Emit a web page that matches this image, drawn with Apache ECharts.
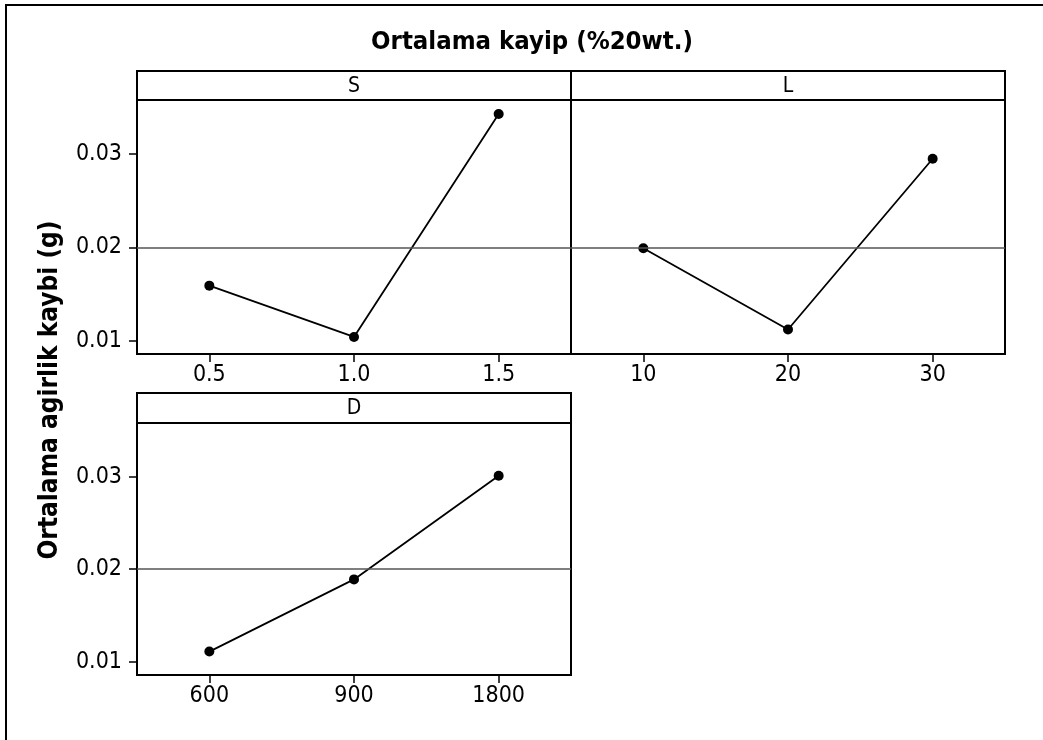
<!DOCTYPE html>
<html>
<head>
<meta charset="utf-8">
<script src="https://cdn.jsdelivr.net/npm/echarts@6/dist/echarts.min.js"></script>
<style>
  html, body { margin: 0; padding: 0; background: #fff; }
  #chart { width: 1043px; height: 740px; }
</style>
</head>
<body>
<div id="chart"></div>
<script>
// ---- data ----
const chartTitle = 'Ortalama kayip (%20wt.)';
const yAxisTitle = 'Ortalama agirlik kaybi (g)';
const panelNames = ['S', 'L', 'D'];
const catS = ['0.5', '1.0', '1.5'];
const valS = [0.0159, 0.0104, 0.0343];
const catL = ['10', '20', '30'];
const valL = [0.0199, 0.0112, 0.0295];
const catD = ['600', '900', '1800'];
const valD = [0.0111, 0.0189, 0.0301];
const yTicks = [0.01, 0.02, 0.03];
const refMean = 0.02;

const FONT = "'DejaVu Sans Condensed', 'DejaVu Sans', sans-serif";
const cats = [catS, catL, catD];
const vals = [valS, valL, valD];

const grids = [
  { left: 137, top: 100, width: 434, height: 254 },
  { left: 571, top: 100, width: 434, height: 254 },
  { left: 137, top: 423, width: 434, height: 252 }
].map(g => Object.assign({ show: true, borderColor: '#000', borderWidth: 2, backgroundColor: '#fff', containLabel: false }, g));

const xAxes = cats.map((c, i) => ({
  type: 'category', gridIndex: i, data: c, boundaryGap: true,
  axisLine: { show: false },
  axisTick: { show: true, alignWithLabel: true, length: 8, lineStyle: { color: '#000', width: 1.5 } },
  axisLabel: { color: '#000', fontSize: 23, fontFamily: FONT, margin: 10 },
  splitLine: { show: false }
}));

const yAxes = [0, 1, 2].map(i => ({
  type: 'value', gridIndex: i, min: 0.00857, max: 0.0358,
  axisLine: { show: false },
  splitLine: { show: false },
  axisTick: { show: i !== 1, customValues: yTicks, length: 8, lineStyle: { color: '#000', width: 1.5 } },
  axisLabel: { show: i !== 1, customValues: yTicks, color: '#000', fontSize: 23, fontFamily: FONT, margin: 15,
               formatter: v => v.toFixed(2) }
}));

const series = vals.map((v, i) => ({
  type: 'line', xAxisIndex: i, yAxisIndex: i, data: v,
  symbol: 'circle', symbolSize: 10, showSymbol: true,
  lineStyle: { color: '#000', width: 1.8 },
  itemStyle: { color: '#000' },
  animation: false,
  markLine: {
    silent: true, symbol: 'none', label: { show: false },
    lineStyle: { color: '#555', width: 1.5, type: 'solid' },
    data: [{ yAxis: refMean }]
  }
}));

const headers = [
  { x: 137, y: 71, w: 434, h: 29 },
  { x: 571, y: 71, w: 434, h: 29 },
  { x: 137, y: 393, w: 434, h: 30 }
];

const graphic = [
  { type: 'rect', shape: { x: 6, y: 5, width: 1200, height: 1000 }, style: { fill: 'none', stroke: '#000', lineWidth: 2 }, z: 0 },
  { type: 'text', x: 532, y: 42, style: { text: chartTitle, font: "bold 25.5px " + FONT, fill: '#000', textAlign: 'center', textVerticalAlign: 'middle' } },
  { type: 'text', x: 50, y: 390, rotation: Math.PI / 2, style: { text: yAxisTitle, font: "bold 26px " + FONT, fill: '#000', textAlign: 'center', textVerticalAlign: 'middle' } }
];
headers.forEach((h, i) => {
  graphic.push({ type: 'rect', shape: { x: h.x, y: h.y, width: h.w, height: h.h }, style: { fill: '#fff', stroke: '#000', lineWidth: 2 }, z: 10 });
  graphic.push({ type: 'text', x: h.x + h.w / 2, y: h.y + h.h / 2 + 1, style: { text: panelNames[i], font: "21px " + FONT, fill: '#000', textAlign: 'center', textVerticalAlign: 'middle' }, z: 11 });
});

const chart = echarts.init(document.getElementById('chart'), null, { renderer: 'canvas' });
chart.setOption({
  backgroundColor: '#fff',
  animation: false,
  grid: grids,
  xAxis: xAxes,
  yAxis: yAxes,
  series: series,
  graphic: graphic
});
</script>
</body>
</html>
